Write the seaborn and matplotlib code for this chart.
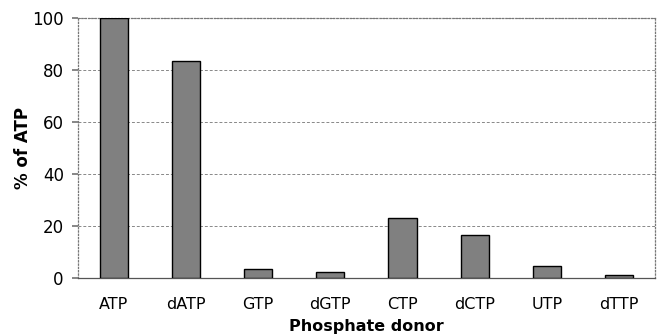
import matplotlib
matplotlib.use("Agg")
import matplotlib.pyplot as plt
import seaborn as sns
import pandas as pd

donors = ["ATP", "dATP", "GTP", "dGTP", "CTP", "dCTP", "UTP", "dTTP"]
pct_of_atp = [100, 83.5, 3.5, 2.5, 23.2, 16.5, 4.6, 1.3]

df = pd.DataFrame({"donor": donors, "pct": pct_of_atp})

sns.set_theme(style="white")
plt.rcParams["font.family"] = ["DejaVu Sans"]
plt.rcParams["text.color"] = "black"
plt.rcParams["axes.labelcolor"] = "black"
plt.rcParams["xtick.color"] = "black"
plt.rcParams["ytick.color"] = "black"

fig = plt.figure(figsize=(6.59, 3.35), dpi=100)
ax = fig.add_axes([0.118, 0.170, 0.876, 0.776])

sns.barplot(data=df, x="donor", y="pct", color="#808080", saturation=1,
            width=0.39, edgecolor="black", linewidth=1.0, ax=ax, zorder=3)

ax.set_ylim(0, 100)
ax.set_yticks([0, 20, 40, 60, 80, 100])
ax.set_xlim(-0.5, len(donors) - 0.5)
ax.yaxis.grid(True, color="#888888", linestyle=(0, (3, 2)), linewidth=0.7, zorder=0)
ax.xaxis.grid(False)
for side in ["top", "right", "left", "bottom"]:
    ax.spines[side].set_color("#777777")
    ax.spines[side].set_linestyle(":")
    ax.spines[side].set_linewidth(0.9)
ax.spines["bottom"].set_linestyle("-")
ax.spines["bottom"].set_color("#555555")

ax.tick_params(axis="y", left=True, length=4, color="#777777", labelsize=12, pad=6)
ax.tick_params(axis="x", bottom=False, labelsize=11.5, pad=8)
ax.set_xlabel("Phosphate donor", fontsize=11.5, fontweight="bold", labelpad=5)
ax.set_ylabel("% of ATP", fontsize=12, fontweight="bold", labelpad=0)

fig.savefig("out.png", dpi=100)
